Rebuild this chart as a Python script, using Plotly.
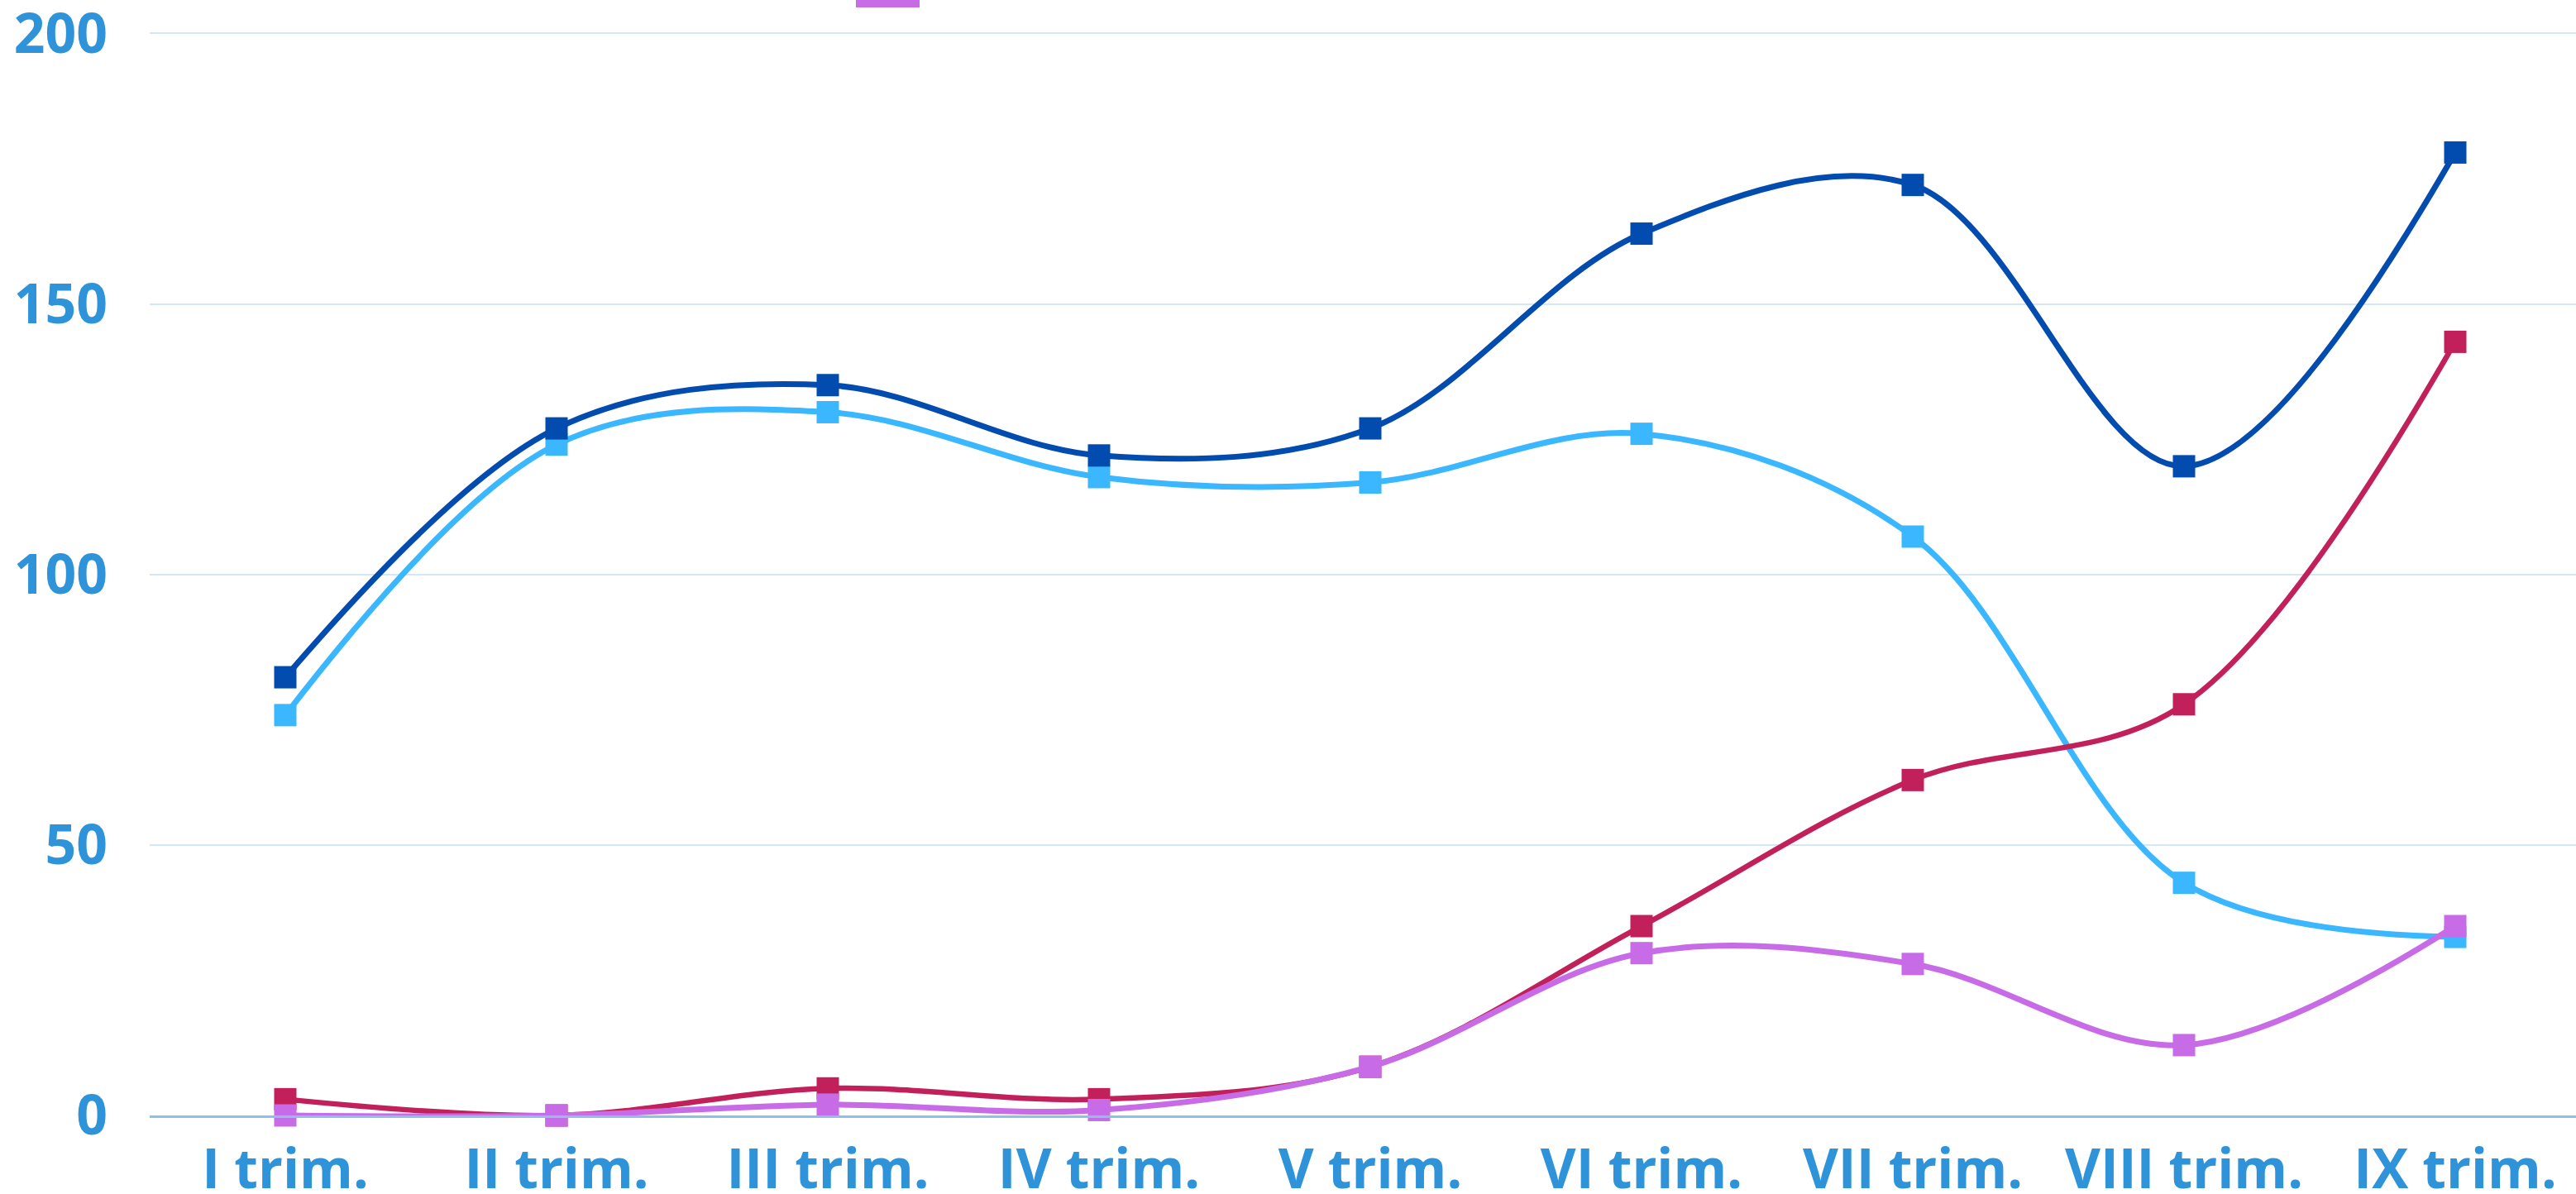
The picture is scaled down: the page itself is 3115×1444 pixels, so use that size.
import plotly.graph_objects as go

categories = ["I trim.", "II trim.", "III trim.", "IV trim.", "V trim.",
              "VI trim.", "VII trim.", "VIII trim.", "IX trim."]
series_dark_blue = [81, 127, 135, 122, 127, 163, 172, 120, 178]
series_light_blue = [74, 124, 130, 118, 117, 126, 107, 43, 33]
series_crimson = [3, 0, 5, 3, 9, 35, 62, 76, 143]
series_purple = [0, 0, 2, 1, 9, 30, 28, 13, 35]
y_ticks = [0, 50, 100, 150, 200]

W, H = 3115, 1444
L, B, T = 181, 95, 0
plot_h = H - B - T

fig = go.Figure()

def add(vals, color, width):
    fig.add_trace(go.Scatter(
        x=categories, y=vals, mode="lines+markers",
        line=dict(color=color, width=width, shape="spline", smoothing=1.0),
        marker=dict(symbol="square", size=27, color=color),
        cliponaxis=False, showlegend=False))

add(series_light_blue, "#3BB7FF", 7)
add(series_dark_blue, "#024BAF", 7)
add(series_crimson, "#C2205A", 6.5)
add(series_purple, "#C86BE6", 7)

ymax = 200 + 40.5 / (1309 / 200)
fig.update_layout(
    width=W, height=H,
    margin=dict(l=L, r=0, t=T, b=B, pad=0, autoexpand=False),
    paper_bgcolor="white", plot_bgcolor="white",
    font=dict(family="Open Sans", size=66, color="#2E93D8"),
    xaxis=dict(type="category", range=[-0.5, (W - L) / 328 - 0.5], automargin=False,
               showgrid=False, showline=True, linecolor="#8DC0E6", linewidth=3,
               ticks="", tickfont=dict(family="Open Sans", size=66, color="#2E93D8", weight="bold"),
               ticklabelstandoff=6, zeroline=False, ticklabeloverflow="allow"),
    yaxis=dict(range=[0, ymax], tickvals=y_ticks, showgrid=True, gridcolor="#D3E7F6",
               gridwidth=2, zeroline=False, showline=False, ticks="", automargin=False,
               tickfont=dict(family="Open Sans", size=66, color="#2E93D8", weight="bold"),
               ticklabelstandoff=50, ticklabeloverflow="allow"),
    shapes=[dict(type="rect", xref="paper", yref="paper",
                 x0=(1035 - L) / (W - L), x1=(1112 - L) / (W - L),
                 y0=1 - 9 / plot_h, y1=1.05, fillcolor="#C86BE6", line_width=0, layer="above")],
)

fig.write_html("out.html", config={"displayModeBar": False},
               post_script="document.body.style.margin='0';document.body.style.overflow='hidden';")
